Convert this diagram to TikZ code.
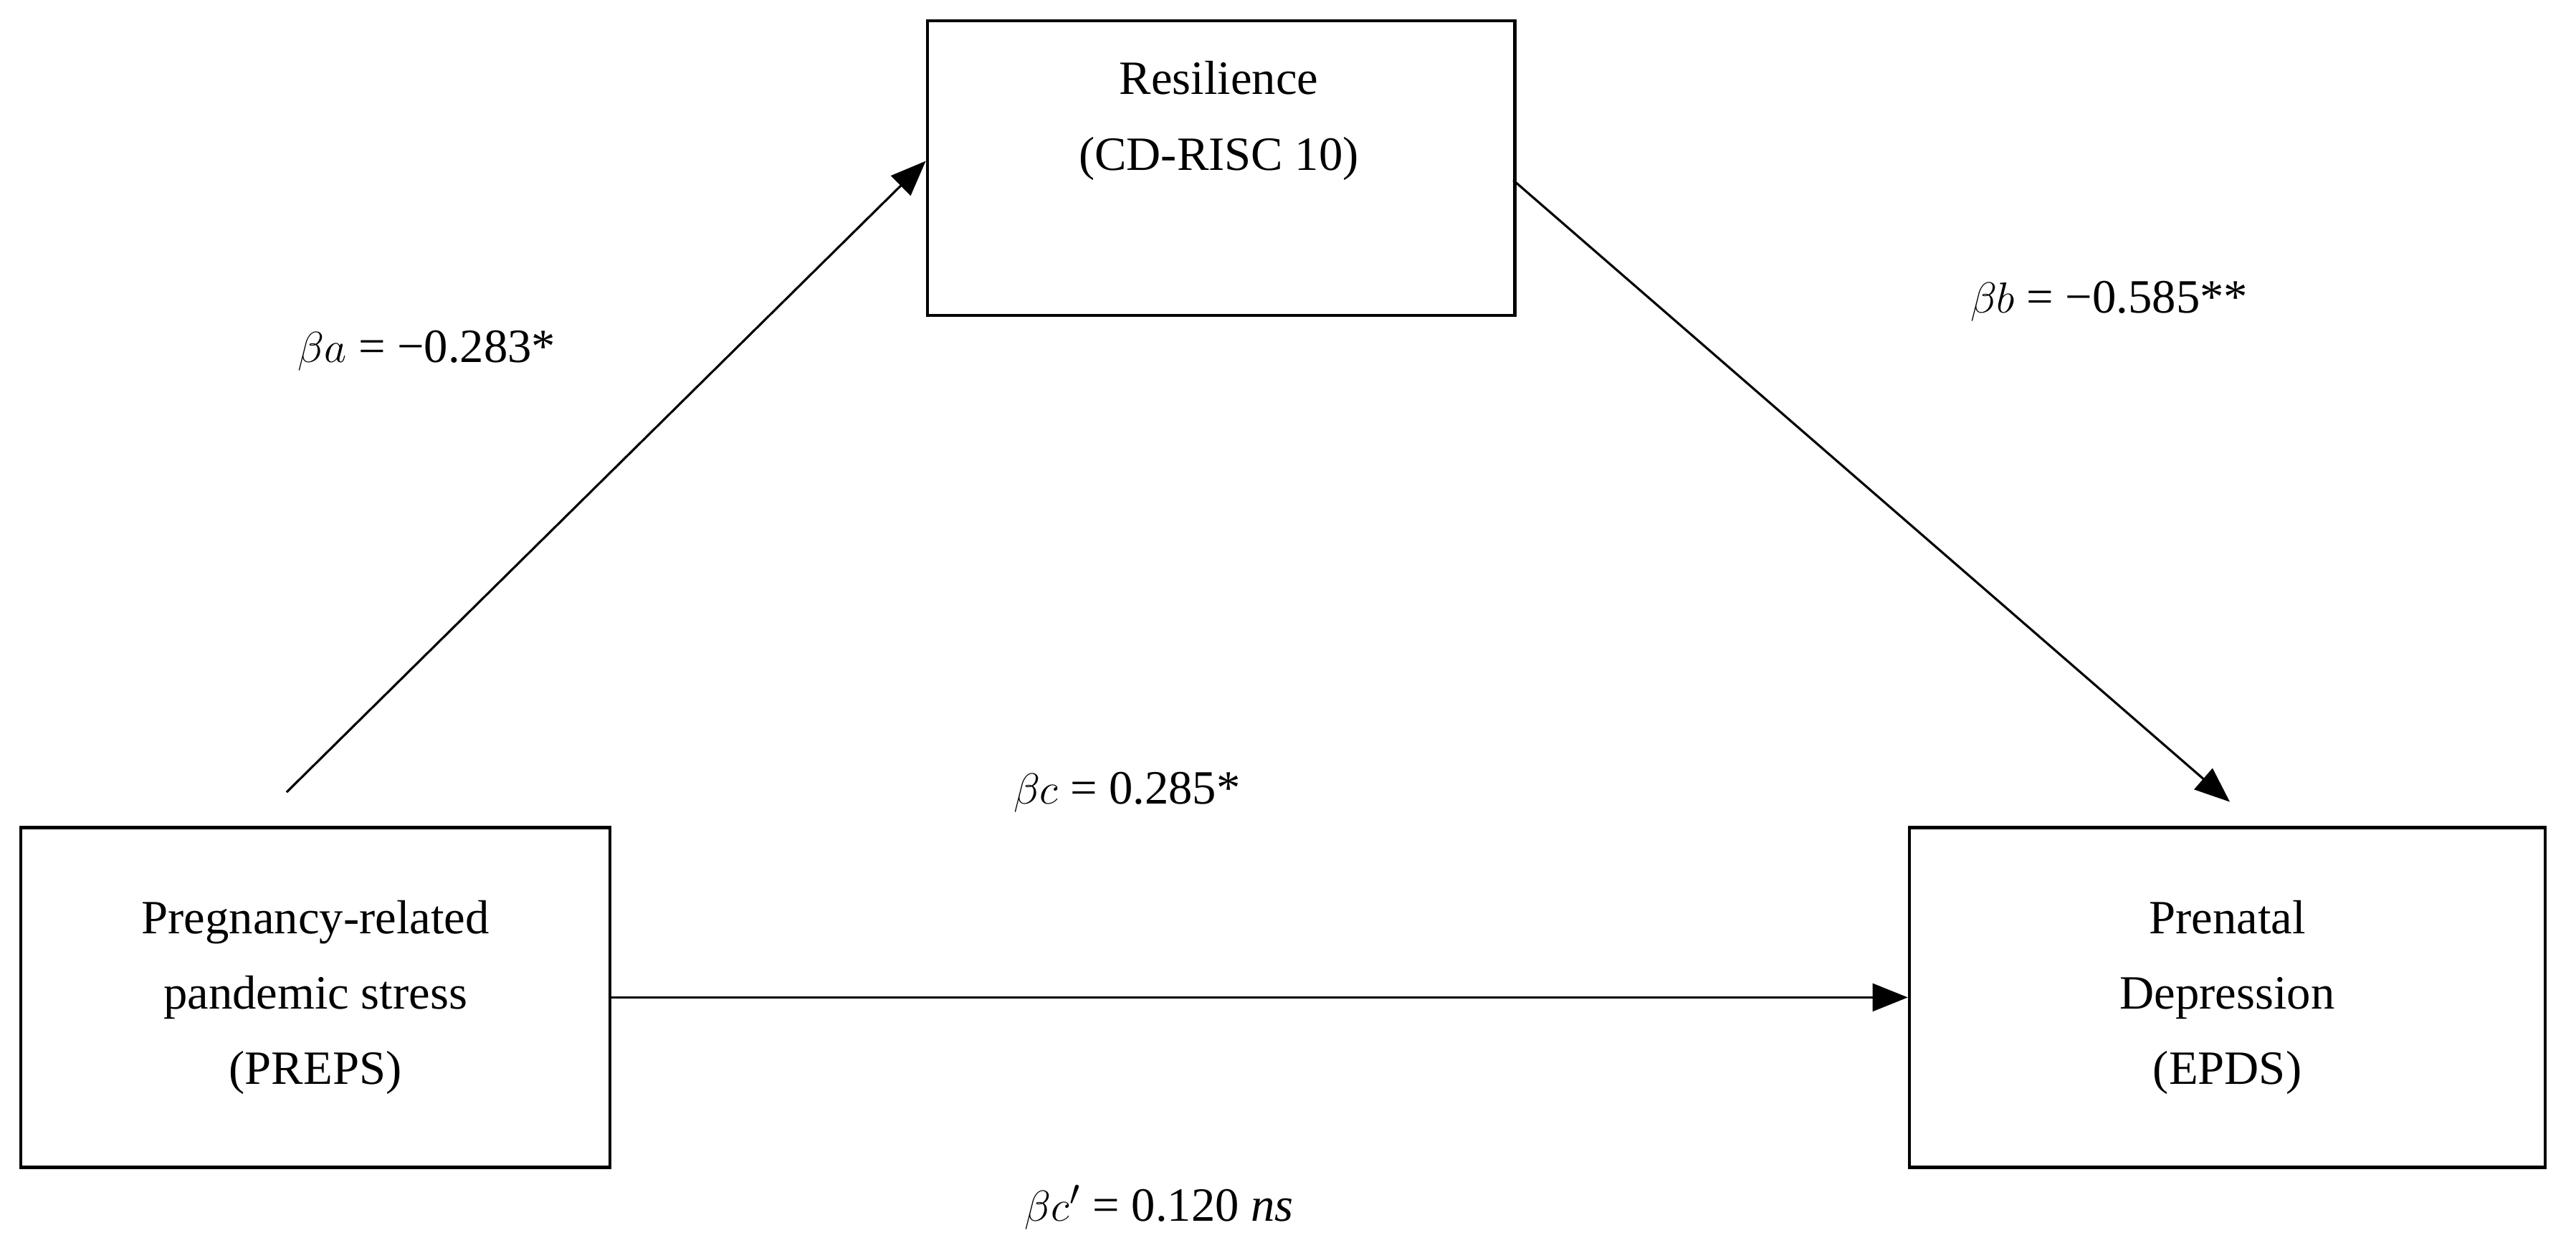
\documentclass[tikz,border=0pt]{standalone}
\usepackage{fontspec}
\setmainfont{Liberation Serif}
\usetikzlibrary{arrows.meta}
\begin{document}
\begin{tikzpicture}[x=0.0225cm,y=-0.0225cm,
  box/.style={draw,line width=1.2pt,align=center,font=\fontsize{19}{30}\selectfont},
  arr/.style={line width=0.9pt,-{Triangle[length=14pt,width=11pt]}},
  lab/.style={font=\fontsize{19}{24}\selectfont}]
\useasboundingbox (0,0) rectangle (1600,775);
\node[box,minimum width=365*0.0225cm,minimum height=183*0.0225cm,anchor=north west,text depth=3.2cm,inner sep=0pt] (res) at (575,12) {};
\node[lab,font=\fontsize{19}{30}\selectfont,align=center] (rest) at (757,75) {Resilience\\(CD-RISC 10)};
\node[box,minimum width=366*0.0225cm,minimum height=211*0.0225cm,anchor=north west] (pre) at (12,513) {Pregnancy-related\\pandemic stress\\(PREPS)};
\node[box,minimum width=395*0.0225cm,minimum height=211*0.0225cm,anchor=north west] (epd) at (1185,513) {Prenatal\\Depression\\(EPDS)};
\coordinate (a0) at (178,492);
\coordinate (a1) at (575,100);
\coordinate (b0) at (940,112);
\coordinate (b1) at (1385,498);
\draw[arr] (a0) -- (a1);
\draw[arr] (b0) -- (b1);
\draw[arr] (pre.east) -- (epd.west);
\node[lab] (la) at (265,218) {$\beta a$ = −0.283*};
\node[lab] (lb) at (1310,187) {$\beta b$ = −0.585**};
\node[lab] (lc) at (700,492) {$\beta c$ = 0.285*};
\node[lab] (lcp) at (720,750) {$\beta c'$ = 0.120 \textit{ns}};
\end{tikzpicture}
\end{document}
